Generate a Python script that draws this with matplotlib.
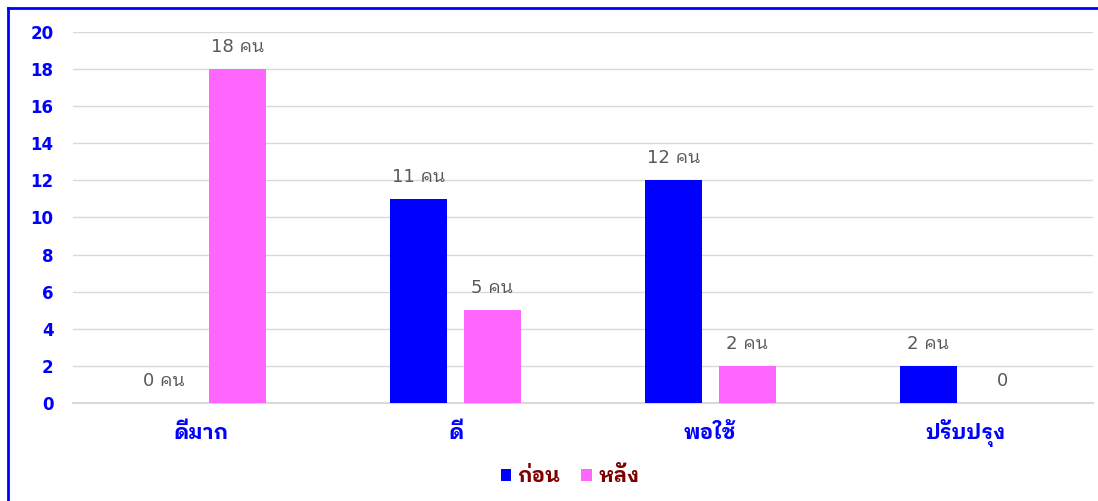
import numpy as np
import matplotlib
matplotlib.use("Agg")
import matplotlib.pyplot as plt
from matplotlib.lines import Line2D

plt.rcParams['font.family'] = ['DejaVu Sans', 'IBM Plex Sans Thai Looped']

categories = ["ดีมาก", "ดี", "พอใช้", "ปรับปรุง"]
before = [0, 11, 12, 2]
after = [18, 5, 2, 0]
before_labels = ["0 คน", "11 คน", "12 คน", "2 คน"]
after_labels = ["18 คน", "5 คน", "2 คน", "0"]
series_names = ["ก่อน", "หลัง"]

blue = "#0000FF"
pink = "#FF66FF"

fig = plt.figure(figsize=(10.98, 5.01), dpi=100)
ax = fig.add_axes([73 / 1098, 98 / 501, 1020 / 1098, 371 / 501])

x = np.arange(len(categories))
w = 0.22
off = 0.145
b1 = ax.bar(x - off, before, w, color=blue, label=series_names[0], zorder=3)
b2 = ax.bar(x + off, after, w, color=pink, label=series_names[1], zorder=3)

for bars, labels in ((b1, before_labels), (b2, after_labels)):
    for r, lab in zip(bars, labels):
        ax.annotate(lab, (r.get_x() + r.get_width() / 2, r.get_height()),
                    xytext=(0, 16), textcoords="offset points",
                    ha="center", va="center", fontsize=13, color="#595959")

ax.set_xlim(-0.5, 3.5)
ax.set_ylim(0, 20)
ax.set_yticks(range(0, 21, 2))
ax.yaxis.grid(True, color="#d9d9d9", linewidth=1, zorder=0)
ax.axhline(0, color="#d9d9d9", linewidth=1.5, zorder=1, clip_on=False)
ax.set_axisbelow(True)
for s in ax.spines.values():
    s.set_visible(False)
ax.tick_params(length=0)
ax.tick_params(axis="y", pad=14)
ax.tick_params(axis="x", pad=26)
ax.set_xticks(x)
ax.set_xticklabels(categories)
for t in ax.get_yticklabels():
    t.set_color(blue)
    t.set_fontweight("bold")
    t.set_fontsize(12)
for t in ax.get_xticklabels():
    t.set_color(blue)
    t.set_fontweight("bold")
    t.set_fontsize(15)
    t.set_verticalalignment("baseline")

leg = fig.legend(handles=[b1, b2], loc="center", bbox_to_anchor=(570 / 1098, 1 - 476 / 501),
                 ncol=2, frameon=False, handlelength=0.5, handleheight=0.5,
                 handletextpad=0.3, columnspacing=1.0, prop={"weight": "bold", "size": 15})
for t in leg.get_texts():
    t.set_color("#7F0000")

# blue border at left and top of the screenshot
fig.add_artist(Line2D([8 / 1098, 8 / 1098], [0, 1 - 8 / 501], color=blue, linewidth=2))
fig.add_artist(Line2D([8 / 1098, 1], [1 - 8 / 501, 1 - 8 / 501], color=blue, linewidth=2))

fig.savefig("out.png")
